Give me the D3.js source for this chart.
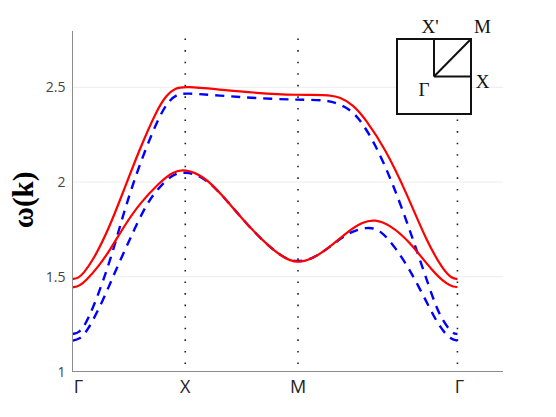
<!DOCTYPE html>
<html><head><meta charset="utf-8">
<style>html,body{margin:0;padding:0;background:#fff}svg{display:block}</style>
<script src="https://cdn.jsdelivr.net/npm/d3@7"></script></head>
<body><svg id="c" width="556" height="417"></svg>
<script>
const symmetryLabels = ["Γ","X","M","Γ"];
const symmetryK = [0,1,2,3.414];
const yTicks = [1,1.5,2,2.5];
const yTickLabels = ["1","1.5","2","2.5"];
const gridValues = [1.5,2,2.5];

const redUpper = [[0,1.488],[.05,1.492],[.096,1.517],[.184,1.588],[.318,1.747],[.451,1.95],[.592,2.169],[.747,2.38],[.835,2.46],[.909,2.495],[1,2.505],[1.308,2.487],[1.619,2.47],[2,2.458],[2.239,2.461],[2.372,2.45],[2.49,2.406],[2.594,2.336],[2.772,2.178],[2.964,1.94],[3.135,1.694],[3.286,1.536],[3.366,1.49],[3.414,1.488]];
const redLower = [[0,1.444],[.06,1.45],[.126,1.483],[.229,1.553],[.333,1.641],[.466,1.775],[.599,1.889],[.776,2.0],[.891,2.055],[1,2.068],[1.157,2.032],[1.308,1.947],[1.601,1.736],[1.867,1.595],[2,1.572],[2.133,1.595],[2.284,1.657],[2.435,1.736],[2.576,1.79],[2.683,1.803],[2.816,1.773],[2.978,1.694],[3.197,1.525],[3.321,1.46],[3.38,1.446],[3.414,1.446]];
const blueUpper = [[0,1.198],[.06,1.205],[.111,1.245],[.182,1.335],[.273,1.48],[.362,1.641],[.436,1.799],[.519,1.96],[.643,2.169],[.776,2.354],[.85,2.425],[.924,2.462],[1,2.47],[1.308,2.456],[1.619,2.443],[2,2.433],[2.257,2.435],[2.417,2.401],[2.535,2.345],[2.683,2.204],[2.84,1.993],[2.987,1.756],[3.171,1.43],[3.259,1.288],[3.366,1.2],[3.414,1.198]];
const blueLower = [[0,1.163],[.06,1.17],[.129,1.208],[.273,1.377],[.371,1.518],[.486,1.668],[.539,1.738],[.661,1.889],[.758,1.965],[.882,2.04],[1,2.056],[1.157,2.028],[1.308,1.947],[1.601,1.736],[1.867,1.595],[2,1.577],[2.133,1.595],[2.284,1.657],[2.435,1.731],[2.612,1.765],[2.727,1.75],[2.861,1.657],[3.011,1.52],[3.188,1.309],[3.259,1.235],[3.348,1.17],[3.414,1.163]];

const svg = d3.select("#c");
const x = d3.scaleLinear().domain([0,3.818]).range([72.5,503]);
const y = d3.scaleLinear().domain([1,2.95]).range([371.5,2]);
const sans = "'Open Sans',sans-serif", serif = "'Liberation Serif',serif";

svg.append("g").selectAll("line").data(gridValues).join("line")
  .attr("x1",x(0)).attr("x2",x(3.818)).attr("y1",d=>y(d)).attr("y2",d=>y(d))
  .attr("stroke","#ececec").attr("stroke-width",1);

svg.append("g").selectAll("line").data(symmetryK.slice(1)).join("line")
  .attr("x1",d=>x(d)).attr("x2",d=>x(d)).attr("y1",38.5).attr("y2",365)
  .attr("stroke","#222").attr("stroke-width",1.6)
  .attr("stroke-dasharray","1.6 9.97");

const line = d3.line().x(d=>x(d[0])).y(d=>y(d[1])).curve(d3.curveBasis);
[blueUpper,blueLower].forEach(s=>svg.append("path").attr("d",line(s)).attr("fill","none")
  .attr("stroke","#0000ff").attr("stroke-width",2.4).attr("stroke-dasharray","9 7"));
[redUpper,redLower].forEach(s=>svg.append("path").attr("d",line(s)).attr("fill","none")
  .attr("stroke","#ff0000").attr("stroke-width",2.2));

svg.append("line").attr("x1",x(0)).attr("x2",x(0)).attr("y1",31).attr("y2",372).attr("stroke","#8c8c8c").attr("stroke-width",1);
svg.append("line").attr("x1",72).attr("x2",503).attr("y1",371.5).attr("y2",371.5).attr("stroke","#8c8c8c").attr("stroke-width",1);

svg.append("g").selectAll("text").data(yTicks).join("text")
  .attr("x",65.5).attr("y",d=>y(d)+5).attr("text-anchor","end")
  .attr("font-family",sans).attr("font-size",14).attr("fill","#444")
  .text((d,i)=>yTickLabels[i]);
svg.append("g").selectAll("text").data(symmetryK).join("text")
  .attr("x",d=>x(d)+(d===0?6:d===3.414?2:0)).attr("y",393).attr("text-anchor","middle")
  .attr("font-family",sans).attr("font-size",18).attr("fill","#222")
  .text((d,i)=>symmetryLabels[i]);

svg.append("text").attr("transform","translate(33,200) rotate(-90)").attr("text-anchor","middle")
  .attr("font-family",serif).attr("font-weight","bold").attr("font-size",29).attr("fill","#000").text("ω(k)");

const inX = d3.scaleLinear().domain([-1,1]).range([397,471]);
const inY = d3.scaleLinear().domain([-1,1]).range([114,39]);
const g = svg.append("g").attr("fill","none").attr("stroke","#111").attr("stroke-width",2);
g.append("rect").attr("x",inX(-1)).attr("y",inY(1)).attr("width",inX(1)-inX(-1)).attr("height",inY(-1)-inY(1)).attr("fill","#fff");
[[0,0,0,1],[0,0,1,0],[0,0,1,1]].forEach(l=>g.append("line")
  .attr("x1",inX(l[0])).attr("y1",inY(l[1])).attr("x2",inX(l[2])).attr("y2",inY(l[3])));
const insetLabels = [["X'",430,33],["M",482.5,33],["X",482.5,88],["Γ",424,96]];
svg.append("g").selectAll("text").data(insetLabels).join("text")
  .attr("x",d=>d[1]).attr("y",d=>d[2]).attr("text-anchor","middle")
  .attr("font-family",serif).attr("font-size",19).attr("fill","#111").text(d=>d[0]);
</script></body></html>
